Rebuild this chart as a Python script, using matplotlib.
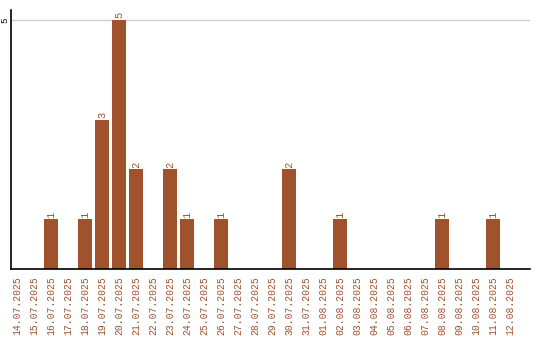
import matplotlib
matplotlib.use("Agg")
import matplotlib.pyplot as plt

dates = ["14.07.2025", "15.07.2025", "16.07.2025", "17.07.2025", "18.07.2025",
         "19.07.2025", "20.07.2025", "21.07.2025", "22.07.2025", "23.07.2025",
         "24.07.2025", "25.07.2025", "26.07.2025", "27.07.2025", "28.07.2025",
         "29.07.2025", "30.07.2025", "31.07.2025", "01.08.2025", "02.08.2025",
         "03.08.2025", "04.08.2025", "05.08.2025", "06.08.2025", "07.08.2025",
         "08.08.2025", "09.08.2025", "10.08.2025", "11.08.2025", "12.08.2025"]
counts = [0, 0, 1, 0, 1, 3, 5, 2, 0, 2, 1, 0, 1, 0, 0, 0, 2, 0, 0, 1,
          0, 0, 0, 0, 0, 1, 0, 0, 1, 0]

color = "#A0522D"
fig = plt.figure(figsize=(5.4, 3.4), dpi=100)
ax = fig.add_axes([11/540, 1 - 269/340, 519/540, 259/340])
x = list(range(len(dates)))
ax.bar(x, counts, width=0.82, color=color, zorder=2)
ax.set_xlim(-0.35, 30.18)
ax.set_ylim(0, 5.2)
ax.set_yticks([5])
ax.set_yticklabels(["5"], rotation=90, fontsize=6.5, family="Liberation Mono", va="center")
ax.yaxis.grid(True, color="#cccccc", lw=1, zorder=0)
ax.tick_params(axis="y", length=0, pad=1)
ax.set_xticks(x)
ax.set_xticklabels(dates, rotation=90, fontsize=7, family="Liberation Mono", color=color)
ax.tick_params(axis="x", length=0, pad=5)
for s in ["top", "right"]:
    ax.spines[s].set_visible(False)
ax.spines["left"].set_linewidth(1.2)
ax.spines["bottom"].set_linewidth(1.2)
for xi, c in zip(x, counts):
    if c > 0:
        ax.text(xi, c + 0.03, str(c), rotation=90, ha="center", va="bottom",
                fontsize=7.5, family="Liberation Mono", color=color)
fig.savefig("out.png", dpi=100)
